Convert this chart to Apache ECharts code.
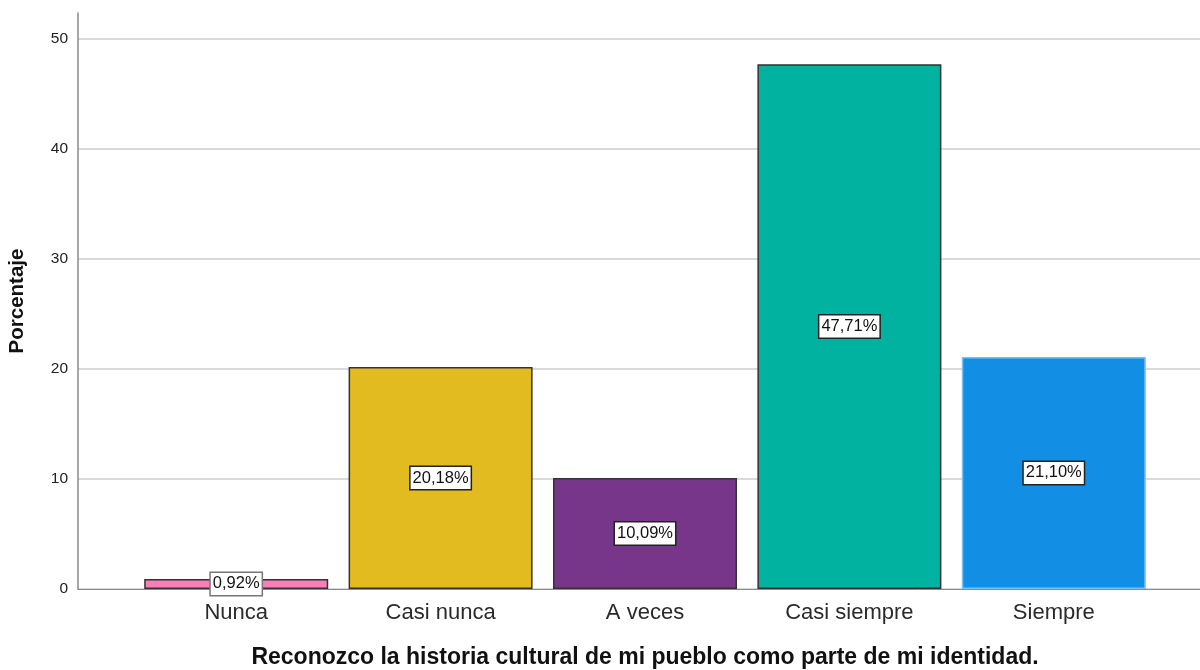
<!DOCTYPE html>
<html>
<head>
<meta charset="utf-8">
<script src="https://cdn.jsdelivr.net/npm/echarts@6/dist/echarts.min.js"></script>
<style>
  html, body { margin: 0; padding: 0; background: #fff; }
  #chart { width: 1200px; height: 670px; }
</style>
</head>
<body>
<div id="chart"></div>
<script>
// datos
var categories = ["Nunca", "Casi nunca", "A veces", "Casi siempre", "Siempre"];
var percentages = [0.92, 20.18, 10.09, 47.71, 21.10];
var barColors = ["#fb7fb6", "#e1bb1f", "#78368b", "#00b29f", "#128fe5"];
var barBorders = ["#333333", "#333333", "#333333", "#333333", "#7cc0f2"];
var labelBorders = ["#777777", "#222222", "#222222", "#222222", "#222222"];
var yTicks = [0, 10, 20, 30, 40, 50];

var yMax = 52.36;
var font = "Liberation Sans, Arial, sans-serif";

var chart = echarts.init(document.getElementById("chart"));

var barData = percentages.map(function (v, i) {
  return {
    value: v,
    itemStyle: { color: barColors[i], borderColor: barBorders[i] },
    label: { borderColor: labelBorders[i] }
  };
});

var option = {
  animation: false,
  textStyle: { fontFamily: font },
  grid: [
    { left: 78, right: 0, top: 13, bottom: 81, outerBoundsMode: "none" },
    { left: 134, right: 44, top: 13, bottom: 81, outerBoundsMode: "none" }
  ],
  xAxis: [
    {
      gridIndex: 0,
      type: "value",
      min: 0,
      max: 1,
      axisLine: { show: true, onZero: false, lineStyle: { color: "#8a8a8a", width: 1 } },
      axisTick: { show: false },
      axisLabel: { show: false },
      splitLine: { show: false }
    },
    {
      gridIndex: 1,
      type: "category",
      data: categories,
      axisLine: { show: false },
      axisTick: { show: false },
      axisLabel: { color: "#2a2a2a", fontSize: 22, margin: 13, fontFamily: font },
      name: "Reconozco la historia cultural de mi pueblo como parte de mi identidad.",
      nameLocation: "middle",
      nameGap: 57,
      nameTextStyle: { color: "#111", fontSize: 23, fontWeight: "bold", fontFamily: font }
    }
  ],
  yAxis: [
    {
      gridIndex: 0,
      type: "value",
      min: 0,
      max: yMax,
      interval: 10,
      axisLine: { show: true, lineStyle: { color: "#8a8a8a", width: 1.5 } },
      axisTick: { show: false },
      axisLabel: {
        color: "#222",
        fontSize: 15.5,
        margin: 10,
        showMaxLabel: false,
        formatter: function (v) {
          return yTicks.indexOf(v) >= 0 ? String(v) : "";
        }
      },
      splitLine: {
        show: true,
        lineStyle: {
          color: ["#cccccc", "#cccccc", "#cccccc", "#cccccc", "#cccccc", "#cccccc", "rgba(0,0,0,0)"],
          width: 1.5
        }
      },
      name: "Porcentaje",
      nameLocation: "middle",
      nameGap: 50,
      nameTextStyle: { color: "#111", fontSize: 20.5, fontWeight: "bold", fontFamily: font }
    },
    {
      gridIndex: 1,
      type: "value",
      min: 0,
      max: yMax,
      show: false,
      splitLine: { show: false }
    }
  ],
  series: [
    {
      type: "bar",
      xAxisIndex: 1,
      yAxisIndex: 1,
      barWidth: 184,
      data: barData,
      itemStyle: { borderWidth: 1.5 },
      label: {
        show: true,
        position: "inside",
        color: "#111",
        fontSize: 16.5,
        fontFamily: font,
        backgroundColor: "#fff",
        borderWidth: 1.5,
        padding: [3, 2, 2, 2],
        formatter: function (p) {
          return p.value.toFixed(2).replace(".", ",") + "%";
        }
      }
    }
  ]
};

chart.setOption(option);
</script>
</body>
</html>
